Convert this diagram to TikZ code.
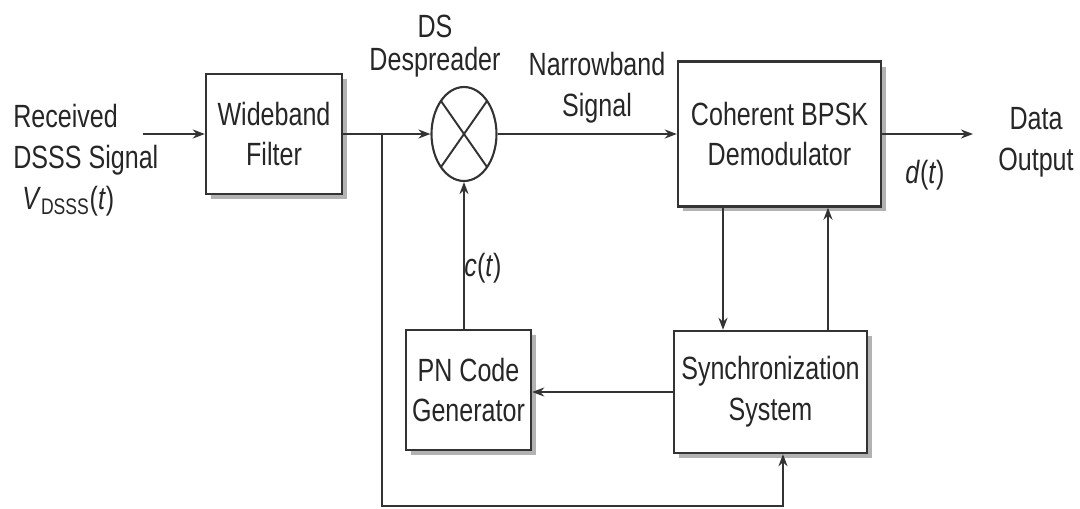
\documentclass[tikz,border=0pt]{standalone}
\usepackage{fontspec}
\setmainfont{Liberation Sans}[FakeStretch=0.78]
\usepackage{tikz}
\usetikzlibrary{arrows.meta,shapes.geometric,shadows,calc}

\begin{document}
\begin{tikzpicture}[x=0.02cm, y=-0.02cm,
  font=\fontsize{18.3}{23.3}\selectfont,
  every node/.style={text=black!85},
  block/.style={draw=black!80, line width=1.4pt, fill=white, inner sep=0pt, align=center,
    drop shadow={shadow xshift=0.1cm, shadow yshift=-0.1cm, fill=black!30, opacity=1}},
  wire/.style={draw=black!80, line width=1.1pt},
  sig/.style={wire, -{Stealth[length=0.24cm,width=0.18cm]}},
  lbl/.style={align=center, inner sep=0pt}]

  \useasboundingbox (0,0) rectangle (1080,508);

  % Blocks
  \node[block, minimum width=2.72cm, minimum height=2.4cm] (filter) at (274,134) {Wideband\\Filter};
  \node[draw=black!80, line width=1.2pt, ellipse, minimum width=1.3cm, minimum height=1.88cm,
    inner sep=0pt] (mix) at (464,134) {};
  \node[block, minimum width=4.06cm, minimum height=2.9cm] (demod) at (779.5,134) {Coherent BPSK\\Demodulator};
  \node[block, minimum width=2.5cm, minimum height=2.4cm] (pn) at (468.5,390) {PN Code\\Generator};
  \node[block, minimum width=3.86cm, minimum height=2.44cm] (sync) at (770.5,392) {Synchronization\\System};

  % Mixer cross
  \draw[wire] ($(mix.center)+(-23,-33)$) -- ($(mix.center)+(23,33)$);
  \draw[wire] ($(mix.center)+(23,-33)$) -- ($(mix.center)+(-23,33)$);

  % Free ends and corners
  \coordinate (in) at (143,134);
  \coordinate (out) at (973,134);
  \coordinate (tap) at (382,134);
  \coordinate (low) at (382,506);

  % Main signal path
  \draw[sig] (in) -- (filter.west);
  \draw[sig] (filter.east) -- (mix.west);
  \draw[sig] (mix.east) -- (demod.west);
  \draw[sig] (demod.east) -- (out);

  % Feedback loops
  \draw[sig] (pn.north -| mix) -- (mix.south);
  \draw[sig] (sync.west) -- (sync.west -| pn.east);
  \draw[sig] ([xshift=-1.13cm]demod.south) -- ([xshift=-1.13cm]demod.south |- sync.north);
  \draw[sig] ([xshift=0.97cm]demod.south |- sync.north) -- ([xshift=0.97cm]demod.south);
  \draw[sig] (tap) -- (low) -| ([xshift=0.25cm]sync.south);

  % Labels
  \node[lbl, align=left, anchor=west] (rx) at (13,160)
    {Received\\DSSS Signal\\\hspace*{0.18cm}\textit{V}\textsubscript{DSSS}(\textit{t})};
  \node[lbl] (ds) at (435,46) {DS\\[-0.16cm]Despreader};
  \node[lbl] (nb) at (597,88) {Narrowband\\Signal};
  \node[lbl] (dout) at (1036,142) {Data\\Output};
  \node[lbl] (dt) at (925,175) {\textit{d}(\textit{t})};
  \node[lbl] (ct) at (483,268) {\textit{c}(\textit{t})};
\end{tikzpicture}
\end{document}
